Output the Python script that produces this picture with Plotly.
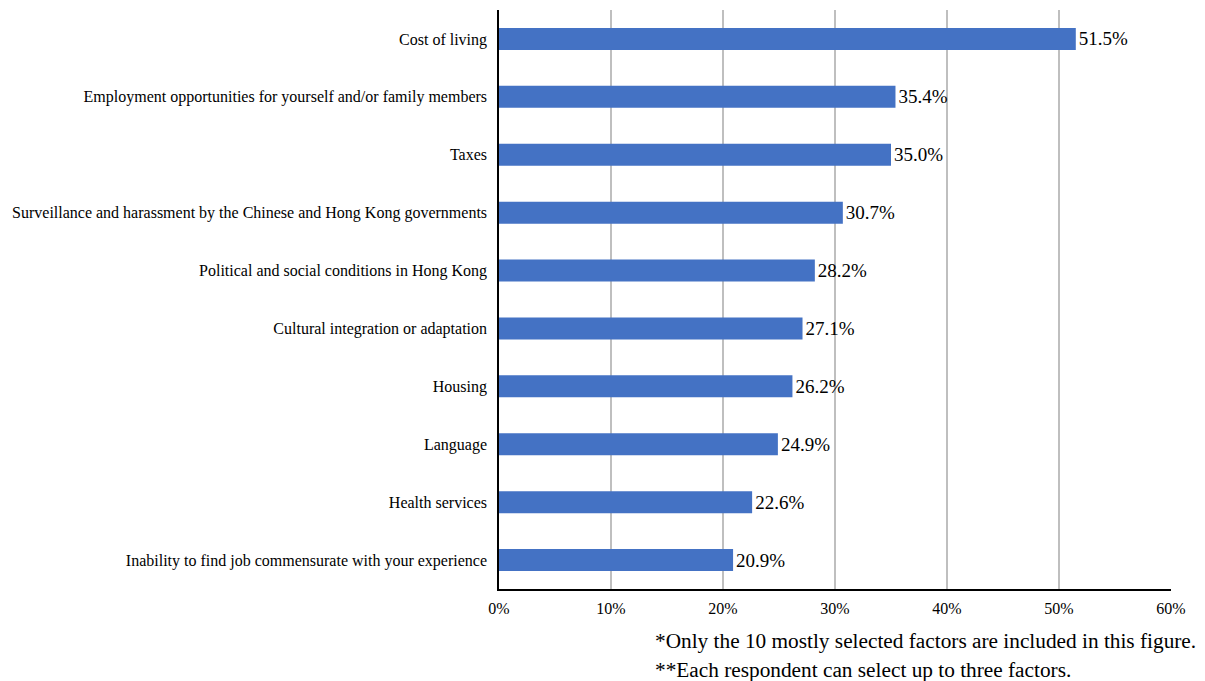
import plotly.graph_objects as go

categories = [
    "Cost of living",
    "Employment opportunities for yourself and/or family members",
    "Taxes",
    "Surveillance and harassment by the Chinese and Hong Kong governments",
    "Political and social conditions in Hong Kong",
    "Cultural integration or adaptation",
    "Housing",
    "Language",
    "Health services",
    "Inability to find job commensurate with your experience",
]
values = [51.5, 35.4, 35.0, 30.7, 28.2, 27.1, 26.2, 24.9, 22.6, 20.9]
tick_vals = [0, 10, 20, 30, 40, 50, 60]
tick_text = ["0%", "10%", "20%", "30%", "40%", "50%", "60%"]
footnotes = [
    "*Only the 10 mostly selected factors are included in this figure.",
    "**Each respondent can select up to three factors.",
]

FONT = "Liberation Serif, Times New Roman, serif"

# page has 8px body margin; figure coords = page coords - 8
W, H = 1197, 673
L, T = 491, 2
PR, PB = 1163, 581

fig = go.Figure(go.Bar(
    x=values,
    y=categories,
    orientation="h",
    marker=dict(color="#4472C4", line=dict(width=0)),
    width=0.38,
    text=[f"{v:.1f}%" for v in values],
    textposition="outside",
    textfont=dict(family=FONT, size=19, color="black"),
    cliponaxis=False,
))

fig.update_layout(
    width=W, height=H,
    margin=dict(l=L, r=W - PR, t=T, b=H - PB),
    plot_bgcolor="white", paper_bgcolor="white",
    font=dict(family=FONT, color="black", size=16),
    showlegend=False,
    xaxis=dict(
        range=[0, 60], tickvals=tick_vals, ticktext=tick_text,
        showgrid=True, gridcolor="#BFBFBF", gridwidth=1.5,
        showline=True, linecolor="black", linewidth=1.5,
        zeroline=False, ticks="", ticklen=0,
        tickfont=dict(family=FONT, size=16, color="black"),
        ticklabelstandoff=4,
        fixedrange=True,
    ),
    yaxis=dict(
        autorange="reversed",
        showline=True, linecolor="black", linewidth=1.5,
        showgrid=False, ticks="", ticklen=0,
        tickfont=dict(family=FONT, size=16, color="black"),
        ticklabelstandoff=7,
    ),
)

for i, t in enumerate(footnotes):
    fig.add_annotation(
        text=t, xref="paper", yref="paper",
        x=(653 - 499) / (1171 - 499), y=-(641 + 29 * i - 589) / (589 - 10),
        xanchor="left", yanchor="middle", showarrow=False,
        font=dict(family=FONT, size=21.3, color="black"),
    )

fig.write_html("out.html")
